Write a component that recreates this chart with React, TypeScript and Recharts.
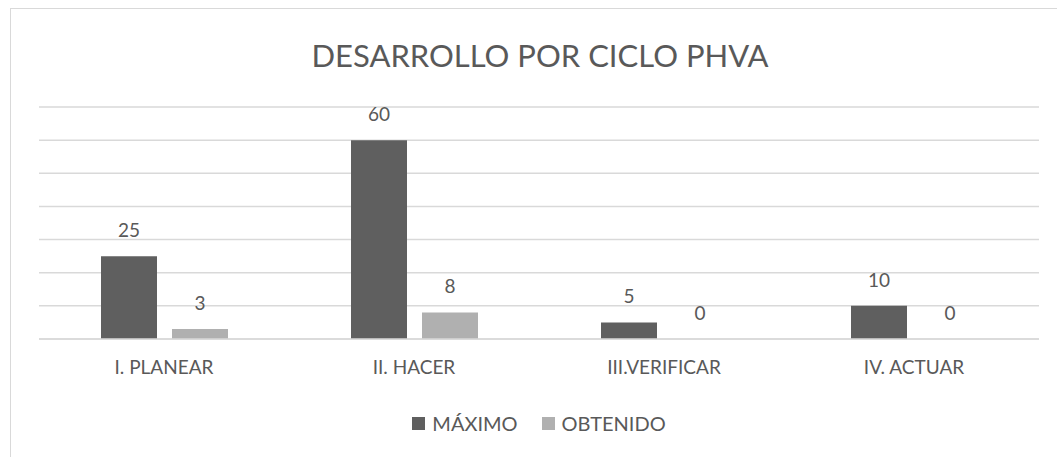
import React from "react";
import { BarChart, Bar, XAxis, YAxis, CartesianGrid, Legend, LabelList } from "recharts";

const categories = ["I. PLANEAR", "II. HACER", "III.VERIFICAR", "IV. ACTUAR"];
const maximo = [25, 60, 5, 10];
const obtenido = [3, 8, 0, 0];
const yTicks = [0, 10, 20, 30, 40, 50, 60, 70];

const data = categories.map((name, i) => ({ name, maximo: maximo[i], obtenido: obtenido[i] }));

const FONT = "Lato, 'Open Sans', sans-serif";
const TEXT = "#595959";

const renderLegend = (props: any) => {
  const { payload } = props;
  return (
    <div style={{ display: "flex", justifyContent: "center", alignItems: "center", fontFamily: FONT, fontSize: 20, color: TEXT }}>
      {payload.map((p: any, i: number) => (
        <div key={i} style={{ display: "flex", alignItems: "center", marginLeft: i === 0 ? 0 : 24 }}>
          <span style={{ display: "inline-block", width: 13, height: 13, background: p.color, marginRight: 7 }} />
          <span>{p.value}</span>
        </div>
      ))}
    </div>
  );
};

export default function App() {
  return (
    <div style={{ position: "absolute", left: 0, top: 0, width: 1057, height: 457, background: "#fff", fontFamily: FONT }}>
      <div style={{ position: "absolute", left: 10, top: 8, width: 1060, height: 460, border: "1px solid #d9d9d9", boxSizing: "border-box" }} />
      <div style={{ position: "absolute", left: 0, top: 36, width: 1080, textAlign: "center", fontSize: 31, color: TEXT }}>
        DESARROLLO POR CICLO PHVA
      </div>
      <div style={{ position: "absolute", left: 0, top: 0 }}>
        <BarChart
          width={1057}
          height={457}
          data={data}
          margin={{ top: 107, right: 18, left: 39, bottom: 20 }}
          barSize={56}
          barGap={15}
        >
          <CartesianGrid vertical={false} stroke="#d9d9d9" strokeWidth={1.5} />
          <YAxis hide domain={[0, 70]} ticks={yTicks} />
          <XAxis
            dataKey="name"
            axisLine={{ stroke: "#d9d9d9", strokeWidth: 1.5 }}
            tickLine={false}
            tick={{ fill: TEXT, fontSize: 19, fontFamily: FONT }}
            tickMargin={16}
            height={60}
          />
          <Legend verticalAlign="bottom" align="center" height={38} wrapperStyle={{ bottom: 8 }} content={renderLegend} />
          <Bar dataKey="maximo" name="MÁXIMO" fill="#5f5f5f" minPointSize={0.1} isAnimationActive={false}>
            <LabelList dataKey="maximo" position="top" offset={19} fill={TEXT} fontSize={19} fontFamily={FONT} />
          </Bar>
          <Bar dataKey="obtenido" name="OBTENIDO" fill="#b0b0b0" minPointSize={0.1} isAnimationActive={false}>
            <LabelList dataKey="obtenido" position="top" offset={19} fill={TEXT} fontSize={19} fontFamily={FONT} />
          </Bar>
        </BarChart>
      </div>
    </div>
  );
}
